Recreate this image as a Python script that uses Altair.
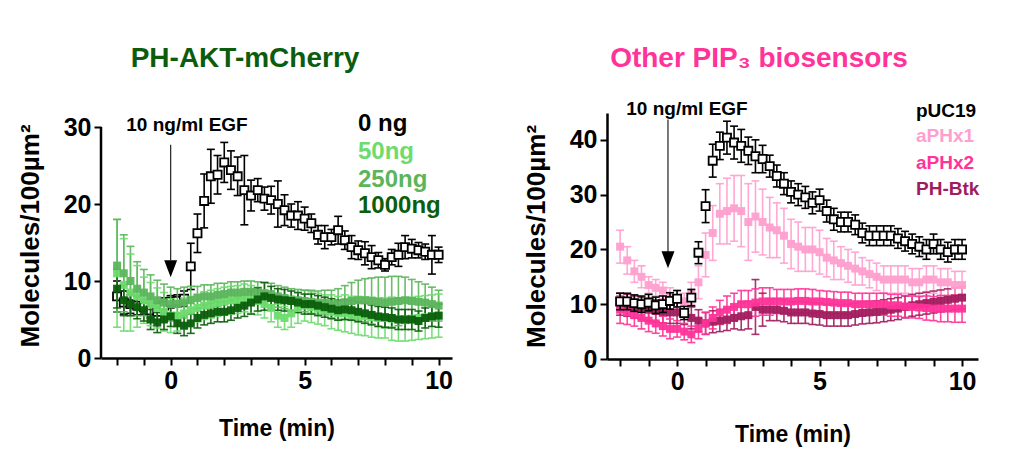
import altair as alt
import pandas as pd

FONT = "Liberation Sans"

# sampling times (min), every 15 s
time = [
    -2.0, -1.75, -1.5, -1.25, -1.0, -0.75, -0.5,
    -0.25, 0.0, 0.25, 0.5, 0.75, 1.0, 1.25,
    1.5, 1.75, 2.0, 2.25, 2.5, 2.75, 3.0,
    3.25, 3.5, 3.75, 4.0, 4.25, 4.5, 4.75,
    5.0, 5.25, 5.5, 5.75, 6.0, 6.25, 6.5,
    6.75, 7.0, 7.25, 7.5, 7.75, 8.0, 8.25,
    8.5, 8.75, 9.0, 9.25, 9.5, 9.75, 10.0,
]

# ---- PH-AKT-mCherry panel ----
akt_names = ["0 ng", "50ng", "250ng", "1000ng"]
akt_colors = ["#000000", "#6ddc6d", "#5cb55c", "#0b5e0b"]

akt_0 = [
    8.0, 7.2, 7.0, 6.8, 6.6, 6.2, 6.0,
    6.8, 7.3, 7.4, 7.7, 11.9, 16.2, 20.4,
    23.6, 23.8, 25.4, 24.4, 23.6, 21.8, 21.1,
    21.8, 20.7, 20.5, 20.0, 19.2, 18.5, 18.5,
    18.1, 17.5, 16.0, 15.7, 15.7, 16.6, 15.3,
    14.4, 14.0, 13.6, 13.1, 12.7, 12.1, 13.1,
    13.4, 14.4, 14.2, 14.0, 13.8, 13.4, 13.4,
]
akt_0_err = [
    2.0, 1.5, 1.2, 1.2, 1.0, 1.0, 1.0,
    1.0, 0.8, 0.8, 1.0, 3.0, 2.5, 3.5,
    3.5, 2.5, 2.6, 2.5, 2.5, 4.5, 2.0,
    1.5, 1.5, 1.8, 3.0, 2.0, 1.5, 1.8,
    1.5, 1.2, 1.2, 1.5, 1.0, 1.8, 1.2,
    1.5, 1.2, 1.5, 1.5, 1.0, 0.8, 1.0,
    1.5, 1.5, 1.2, 1.0, 1.0, 2.5, 1.0,
]
akt_50 = [
    11.0, 9.5, 8.5, 8.0, 7.5, 7.0, 6.5,
    6.0, 5.5, 5.5, 5.8, 6.2, 6.5, 6.8,
    7.0, 7.2, 7.4, 7.5, 7.6, 7.8, 7.6,
    7.4, 7.0, 6.5, 5.5, 5.2, 5.8, 6.5,
    6.8, 6.6, 6.4, 6.2, 6.0, 5.8, 5.8,
    5.6, 5.5, 5.4, 5.3, 5.2, 5.2, 5.1,
    5.0, 5.0, 5.1, 5.2, 5.3, 5.4, 5.5,
]
akt_50_err = [
    7.0, 6.0, 5.0, 4.0, 3.0, 2.8, 2.6,
    2.5, 2.2, 2.0, 2.0, 1.8, 1.8, 1.8,
    1.8, 1.8, 1.8, 1.8, 1.8, 1.8, 1.8,
    1.8, 1.8, 1.8, 1.5, 1.5, 1.8, 2.0,
    2.0, 2.0, 2.0, 2.0, 2.2, 2.2, 2.4,
    2.4, 2.5, 2.5, 2.6, 2.6, 2.6, 2.8,
    2.8, 2.8, 2.8, 2.8, 2.8, 2.8, 2.8,
]
akt_250 = [
    12.0, 11.0, 10.0, 9.0, 8.5, 8.0, 7.5,
    7.2, 7.0, 7.0, 7.2, 7.5, 7.8, 8.0,
    8.0, 8.2, 8.3, 8.5, 8.5, 8.6, 8.6,
    8.5, 8.4, 8.3, 8.0, 7.8, 7.6, 7.5,
    7.4, 7.3, 7.2, 7.2, 7.0, 7.0, 7.2,
    7.4, 7.5, 7.5, 7.4, 7.3, 7.2, 7.3,
    7.4, 7.5, 7.4, 7.3, 7.2, 7.0, 6.8,
]
akt_250_err = [
    6.0, 5.0, 4.5, 3.5, 3.0, 2.8, 2.6,
    2.4, 2.2, 2.0, 2.0, 1.8, 1.5, 1.5,
    1.5, 1.5, 1.4, 1.4, 1.4, 1.4, 1.4,
    1.4, 1.4, 1.4, 1.4, 1.4, 1.4, 1.4,
    1.4, 1.5, 1.5, 1.6, 1.8, 2.0, 2.2,
    2.4, 2.6, 2.8, 3.0, 3.2, 3.3, 3.3,
    3.2, 3.0, 2.8, 2.6, 2.4, 2.2, 2.0,
]
akt_1000 = [
    9.0, 7.5, 7.0, 6.6, 6.2, 5.0, 4.6,
    5.0, 5.4, 4.5, 4.2, 4.5, 5.2, 5.6,
    5.8, 6.0, 6.0, 6.2, 6.5, 6.8, 7.2,
    7.6, 8.0, 7.8, 7.6, 7.5, 7.4, 7.2,
    7.0, 7.0, 6.8, 6.6, 6.4, 6.2, 6.3,
    6.2, 6.0, 5.8, 5.6, 5.4, 5.3, 5.2,
    5.0, 5.0, 5.0, 4.8, 5.2, 5.4, 5.5,
]
akt_1000_err = [
    2.5, 2.0, 1.5, 1.5, 1.4, 1.3, 1.3,
    1.3, 1.3, 1.3, 1.3, 1.3, 1.3, 1.3,
    1.3, 1.3, 1.3, 1.3, 1.3, 1.4, 1.5,
    1.5, 1.8, 1.5, 1.4, 1.4, 1.3, 1.3,
    1.3, 1.3, 1.3, 1.3, 1.3, 1.3, 1.3,
    1.3, 1.3, 1.3, 1.3, 1.3, 1.3, 1.3,
    1.3, 1.3, 1.3, 1.3, 1.3, 1.3, 1.5,
]

# ---- other PIP3 biosensors panel ----
pip_names = ["pUC19", "aPHx1", "aPHx2", "PH-Btk"]
pip_colors = ["#000000", "#ff9fcf", "#ff3399", "#a11c5e"]

puc19 = [
    10.5, 10.5, 10.2, 10.0, 10.3, 9.8, 10.0,
    10.6, 11.0, 8.4, 11.2, 19.4, 27.9, 36.2,
    38.9, 40.4, 39.5, 38.9, 38.0, 37.0, 36.5,
    35.2, 33.4, 32.0, 30.5, 30.0, 29.5, 28.5,
    29.0, 27.0, 25.5, 25.0, 25.0, 24.5, 23.0,
    22.5, 22.5, 22.5, 22.5, 22.0, 21.5, 21.0,
    20.5, 20.0, 21.0, 20.0, 19.5, 20.0, 20.0,
]
puc19_err = [
    1.5, 1.5, 1.5, 1.5, 1.5, 1.5, 1.5,
    1.5, 1.5, 1.2, 1.5, 2.0, 3.0, 3.0,
    2.5, 3.0, 3.0, 3.0, 2.5, 3.0, 2.5,
    2.0, 2.0, 2.0, 2.0, 2.0, 2.0, 2.0,
    2.0, 2.0, 2.0, 1.8, 1.8, 1.8, 1.8,
    1.8, 1.8, 1.8, 1.8, 1.8, 1.8, 1.8,
    1.8, 1.8, 1.8, 1.8, 1.8, 1.8, 1.8,
]
aphx1 = [
    20.5, 18.0, 16.0, 15.0, 13.5, 13.0, 12.5,
    11.5, 11.0, 10.5, 12.0, 14.0, 19.0, 23.0,
    26.5, 27.0, 27.5, 27.0, 25.0, 26.0, 25.0,
    24.0, 23.5, 22.5, 21.0, 20.5, 20.0, 20.0,
    19.5, 18.5, 18.0, 17.5, 17.0, 16.5, 16.0,
    15.5, 15.0, 14.5, 14.5, 14.5, 14.5, 14.0,
    14.0, 14.5, 14.5, 14.0, 14.0, 13.5, 13.5,
]
aphx1_err = [
    3.0, 2.5, 2.0, 2.0, 1.5, 1.5, 1.5,
    1.5, 1.5, 1.5, 2.0, 3.0, 4.0, 5.0,
    5.5, 6.0, 6.0, 6.5, 7.0, 6.5, 6.0,
    5.5, 5.0, 5.0, 4.5, 4.5, 4.0, 4.0,
    4.0, 3.5, 3.5, 3.0, 3.0, 3.0, 2.5,
    2.5, 2.5, 2.5, 2.5, 2.5, 2.5, 2.5,
    2.5, 2.5, 2.5, 2.5, 2.5, 2.5, 2.5,
]
aphx2 = [
    9.0, 8.5, 8.0, 7.5, 7.0, 6.5, 6.0,
    5.5, 5.5, 5.0, 4.5, 5.5, 6.5, 7.5,
    8.5, 9.0, 9.5, 10.0, 10.0, 10.3, 10.5,
    10.5, 10.5, 10.5, 10.5, 10.6, 10.6, 10.5,
    10.5, 10.4, 10.3, 10.2, 10.2, 10.0, 10.0,
    10.0, 10.0, 10.0, 9.8, 9.8, 9.6, 9.5,
    9.4, 9.3, 9.2, 9.2, 9.2, 9.2, 9.2,
]
aphx2_err = [
    2.5, 2.2, 2.0, 2.0, 2.0, 1.8, 1.8,
    1.8, 1.5, 1.5, 1.5, 1.8, 2.0, 2.0,
    2.2, 2.5, 2.5, 2.5, 2.5, 2.5, 2.5,
    2.5, 2.2, 2.2, 2.2, 2.2, 2.2, 2.2,
    2.0, 2.0, 2.0, 2.0, 2.0, 2.0, 2.0,
    2.0, 2.0, 2.0, 2.0, 2.0, 2.0, 2.0,
    2.0, 2.2, 2.2, 2.4, 2.4, 2.5, 2.5,
]
ph_btk = [
    10.0, 9.8, 9.5, 9.3, 9.0, 8.8, 8.6,
    8.5, 8.5, 8.3, 7.5, 7.0, 6.5, 6.8,
    7.0, 7.2, 7.5, 7.8, 8.0, 9.5, 9.0,
    9.0, 9.0, 8.8, 8.5, 8.5, 8.5, 8.3,
    8.2, 8.0, 8.0, 8.0, 8.0, 8.2, 8.4,
    8.5, 8.6, 8.8, 9.0, 9.2, 9.5, 9.8,
    10.0, 10.2, 10.4, 10.6, 10.8, 11.0, 11.2,
]
ph_btk_err = [
    2.0, 2.0, 2.0, 2.0, 2.0, 2.0, 2.0,
    2.0, 2.0, 2.0, 2.0, 2.0, 2.0, 2.0,
    2.0, 2.0, 2.0, 2.5, 2.5, 5.0, 3.0,
    2.0, 2.0, 2.0, 2.0, 2.0, 2.0, 2.0,
    2.0, 2.0, 2.0, 2.0, 2.0, 2.0, 2.0,
    2.0, 2.0, 2.0, 2.0, 2.0, 2.0, 2.0,
    2.0, 2.0, 2.0, 2.0, 2.0, 2.0, 2.0,
]


def long_df(names, colors, means, errs, order):
    rows = []
    for i in order:
        for t, v, s in zip(time, means[i], errs[i]):
            rows.append({"t": t, "mean": v, "lo": v - s, "hi": v + s,
                         "series": names[i], "color": colors[i]})
    return pd.DataFrame(rows)


def label(text, x, y, size, color, align="left", baseline="alphabetic"):
    return (
        alt.Chart(pd.DataFrame({"k": [0]}))
        .mark_text(text=text, font=FONT, fontWeight="bold", fontSize=size,
                   color=color, align=align, baseline=baseline)
        .encode(x=alt.value(x), y=alt.value(y))
    )


def panel(names, colors, means, errs, order, black_on_top, xdom, ydom, yticks, w, h,
          title, title_color, title_x, legend_x, legend_y, legend_size, egf_x, egf_y,
          arrow, y_line, x_title_pad):
    df = long_df(names, colors, means, errs, order)
    black = df[df["series"] == names[0]]
    rest = df[df["series"] != names[0]]

    xaxis = alt.Axis(values=list(range(-2, 11)), title="Time (min)",
                     labelExpr="datum.value % 5 === 0 ? datum.label : ''",
                     titlePadding=x_title_pad, titleFontSize=23)
    yaxis = alt.Axis(values=yticks, title="Molecules/100µm²", domain=y_line is None,
                     titlePadding=20, titleFontSize=26)
    X = alt.X("t:Q", scale=alt.Scale(domain=xdom, nice=False, zero=False), axis=xaxis)
    ysc = alt.Scale(domain=ydom, nice=False, zero=True)
    col = alt.Color("color:N", scale=None)

    def bars(src, color_enc, opacity):
        b = alt.Chart(src)
        enc = {"color": color_enc} if color_enc is not None else {}
        rule = b.mark_rule(strokeWidth=1.6, opacity=opacity, color="black").encode(
            x=X, y=alt.Y("lo:Q", scale=ysc, axis=yaxis), y2="hi:Q", **enc)
        lo = b.mark_tick(orient="horizontal", size=8, thickness=1.6, opacity=opacity,
                         color="black").encode(x=X, y=alt.Y("lo:Q", scale=ysc, axis=yaxis), **enc)
        hi = b.mark_tick(orient="horizontal", size=8, thickness=1.6, opacity=opacity,
                         color="black").encode(x=X, y=alt.Y("hi:Q", scale=ysc, axis=yaxis), **enc)
        return [rule, lo, hi]

    black_layers = bars(black, None, 1) + [
        alt.Chart(black).mark_point(shape="square", filled=True, fill="white", stroke="black",
                                    strokeWidth=1.8, size=66, opacity=1)
        .encode(x=X, y=alt.Y("mean:Q", scale=ysc, axis=yaxis))
    ]
    color_layers = bars(rest, col, 0.9) + [
        alt.Chart(rest).mark_square(size=64, opacity=0.95)
        .encode(x=X, y=alt.Y("mean:Q", scale=ysc, axis=yaxis), color=col)
    ]
    layers = color_layers + black_layers if black_on_top else black_layers + color_layers

    if y_line is not None:
        ax = pd.DataFrame({"y0": [0], "y1": [y_line]})
        layers.append(
            alt.Chart(ax).mark_rule(strokeWidth=2.5, color="black")
            .encode(x=alt.value(0), y=alt.Y("y0:Q", scale=ysc, axis=yaxis), y2="y1:Q")
        )

    # EGF arrow
    arr = pd.DataFrame({"t": [arrow[0]], "y1": [arrow[1]], "y2": [arrow[2]], "yh": [arrow[3]]})
    layers.append(
        alt.Chart(arr).mark_rule(strokeWidth=1.2, color="#222222")
        .encode(x=X, y=alt.Y("y1:Q", scale=ysc, axis=yaxis), y2="y2:Q")
    )
    layers.append(
        alt.Chart(arr).mark_point(shape="M-0.76,-1L0.76,-1L0,1Z", filled=True, color="black",
                                  size=289, opacity=1)
        .encode(x=X, y=alt.Y("yh:Q", scale=ysc, axis=yaxis))
    )
    layers.append(label("10 ng/ml EGF", egf_x, egf_y, 19, "black", align="center",
                        baseline="middle"))

    layers.append(label(title, title_x, -46, 28, title_color, align="center"))
    for i, (n, c) in enumerate(zip(names, colors)):
        layers.append(label(n, legend_x, legend_y[i], legend_size, c))

    return alt.layer(*layers).properties(width=w, height=h)


left = panel(
    akt_names, akt_colors, [akt_0, akt_50, akt_250, akt_1000],
    [akt_0_err, akt_50_err, akt_250_err, akt_1000_err], order=[0, 1, 2, 3],
    black_on_top=False,
    xdom=[-2.6, 10.5], ydom=[0, 31.82], yticks=[0, 10, 20, 30], w=351, h=245,
    title="PH-AKT-mCherry", title_color="#0d5c0d", title_x=144,
    legend_x=257, legend_y=[18, 46, 74, 100], legend_size=24,
    egf_x=86, egf_y=12, arrow=[0.0, 27.7, 12.7, 11.6], y_line=30, x_title_pad=24,
)

right = panel(
    pip_names, pip_colors, [puc19, aphx1, aphx2, ph_btk],
    [puc19_err, aphx1_err, aphx2_err, ph_btk_err], order=[0, 3, 1, 2],
    black_on_top=True,
    xdom=[-2.46, 10.56], ydom=[0, 44.9], yticks=[0, 10, 20, 30, 40], w=371, h=246,
    title="Other PIP₃ biosensors", title_color="#ff3399", title_x=152,
    legend_x=309, legend_y=[4, 29, 56, 82], legend_size=19,
    egf_x=80, egf_y=-4, arrow=[-0.32, 43.7, 19.4, 18.1], y_line=None, x_title_pad=29,
)

chart = (
    alt.hconcat(left, right, spacing=70)
    .configure_view(stroke=None)
    .configure_axis(
        grid=False,
        domainColor="black",
        domainWidth=2.5,
        tickColor="black",
        tickWidth=2,
        tickSize=7,
        labelFont=FONT,
        labelFontWeight="bold",
        labelFontSize=25,
        labelColor="black",
        labelPadding=3,
        titleFont=FONT,
        titleFontWeight="bold",
        titleColor="black",
    )
    .properties(padding={"left": 9, "top": 37, "right": 5, "bottom": 5})
)

chart.save("out.html", embed_options={"renderer": "svg", "actions": False})
